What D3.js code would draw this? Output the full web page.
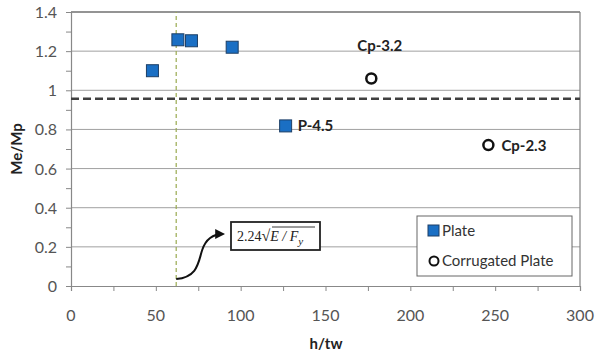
<!DOCTYPE html>
<html>
<head>
<meta charset="utf-8">
<script src="https://cdn.jsdelivr.net/npm/d3@7"></script>
<style>
  body { margin: 0; background: #fff; }
  svg { font-family: Lato, "Open Sans", sans-serif; }
</style>
</head>
<body>
<div id="chart"></div>
<script>

// data
var plateX = [48, 63, 71, 95, 126.5];
var plateY = [1.10, 1.258, 1.253, 1.22, 0.818];
var corrX = [177, 246];
var corrY = [1.06, 0.72];
var pointLabels = [
    { text: "P-4.5", x: 126.5, y: 0.818, dx: 12, dy: 5 },
    { text: "Cp-3.2", x: 177, y: 1.06, dx: -14, dy: -28 },
    { text: "Cp-2.3", x: 246, y: 0.72, dx: 13, dy: 6 }
];
var limitY = 0.957;      // dashed horizontal line
var slenderX = 62;       // 2.24 sqrt(E/Fy)
var xTicks = [0, 50, 100, 150, 200, 250, 300];
var yTicks = [0, 0.2, 0.4, 0.6, 0.8, 1, 1.2, 1.4];

var W = 600, H = 362;
var m = { left: 71, right: 20, top: 12, bottom: 76 };

var svg = d3.select('#chart').append('svg').attr('width', W).attr('height', H);

var x = d3.scaleLinear().domain([0, 300]).range([m.left, W - m.right]);
var y = d3.scaleLinear().domain([0, 1.4]).range([H - m.bottom, m.top]);

// gridlines
svg.append('g').selectAll('line').data(yTicks.slice(1))
    .enter().append('line')
    .attr('x1', x(0)).attr('x2', x(300))
    .attr('y1', function(d) { return y(d); }).attr('y2', function(d) { return y(d); })
    .style('stroke', d3.rgb(160, 160, 160)).style('stroke-width', 1);

// right border + top
svg.append('line').attr('x1', x(300)).attr('x2', x(300)).attr('y1', y(0)).attr('y2', y(1.4))
    .style('stroke', '#808080').style('stroke-width', 1.2);
svg.append('line').attr('x1', x(0)).attr('x2', x(300)).attr('y1', y(1.4)).attr('y2', y(1.4))
    .style('stroke', '#808080').style('stroke-width', 1.5);

// axes
var xAxis = d3.axisBottom(x).tickValues(d3.range(0, 301, 25)).tickSize(5).tickFormat('');
var yAxis = d3.axisLeft(y).tickValues(d3.range(0, 1.41, 0.1)).tickSize(5).tickFormat('');
var gx = svg.append('g').attr('transform', 'translate(0,' + y(0) + ')').call(xAxis);
var gy = svg.append('g').attr('transform', 'translate(' + x(0) + ',0)').call(yAxis);
[gx, gy].forEach(function(g) {
    g.select('.domain').style('stroke', '#888').style('stroke-width', 1.2);
    g.selectAll('.tick line').style('stroke', '#888');
});

svg.append('g').selectAll('text').data(xTicks).enter().append('text')
    .attr('x', function(d) { return x(d); }).attr('y', y(0) + 35)
    .attr('text-anchor', 'middle').attr('font-size', '16px').style('fill', '#555')
    .text(function(d) { return d; });
svg.append('g').selectAll('text').data(yTicks).enter().append('text')
    .attr('x', x(0) - 14).attr('y', function(d) { return y(d) + 6; })
    .attr('text-anchor', 'end').attr('font-size', '16px').style('fill', '#555')
    .text(function(d) { return d; });

svg.append('text').attr('x', 326).attr('y', 349).attr('text-anchor', 'middle')
    .attr('font-size', '15px').attr('font-weight', 'bold').style('fill', '#222').text('h/tw');
svg.append('text').attr('transform', 'translate(22,' + y(0.7) + ') rotate(-90)')
    .attr('text-anchor', 'middle').attr('font-size', '15px').attr('font-weight', 'bold')
    .style('fill', '#222').text('Me/Mp');

// reference lines
svg.append('line').attr('x1', x(0)).attr('x2', x(300)).attr('y1', y(limitY)).attr('y2', y(limitY))
    .style('stroke', '#404040').style('stroke-width', 2.5).style('stroke-dasharray', '8,4');
svg.append('line').attr('x1', x(slenderX)).attr('x2', x(slenderX)).attr('y1', y(0)).attr('y2', y(1.4))
    .style('stroke', '#9aaa50').style('stroke-width', 1.2).style('stroke-dasharray', '4,3');

// points
svg.append('g').selectAll('rect').data(plateX).enter().append('rect')
    .attr('x', function(d) { return x(d) - 6; })
    .attr('y', function(d, i) { return y(plateY[i]) - 6; })
    .attr('width', 12).attr('height', 12)
    .style('fill', '#1a6fc4').style('stroke', '#1d3f66').style('stroke-width', 1);
svg.append('g').selectAll('circle').data(corrX).enter().append('circle')
    .attr('cx', function(d) { return x(d); })
    .attr('cy', function(d, i) { return y(corrY[i]); })
    .attr('r', 5).style('fill', 'none').style('stroke', '#111').style('stroke-width', 2.5);

svg.append('g').selectAll('text').data(pointLabels).enter().append('text')
    .attr('x', function(d) { return x(d.x) + d.dx; })
    .attr('y', function(d) { return y(d.y) + d.dy; })
    .attr('font-size', '15px').attr('font-weight', 'bold').style('fill', '#222')
    .text(function(d) { return d.text; });

// annotation box with formula and curved arrow
svg.append('rect').attr('x', 231).attr('y', 222).attr('width', 89).attr('height', 28)
    .style('fill', '#fff').style('stroke', '#222').style('stroke-width', 1.8);
var f = svg.append('text').attr('x', 237).attr('y', 241)
    .attr('font-family', '"Liberation Serif", "DejaVu Serif", serif').attr('font-size', '14px').style('fill', '#222');
f.append('tspan').text('2.24');
f.append('tspan').attr('font-size', '16px').text('\u221A');
f.append('tspan').attr('font-style', 'italic').text('E / F');
f.append('tspan').attr('font-style', 'italic').attr('font-size', '11px').attr('dy', 4).text('y');
svg.append('line').attr('x1', 272).attr('x2', 315).attr('y1', 227).attr('y2', 227)
    .style('stroke', '#222').style('stroke-width', 0.9);

svg.append('defs').append('marker').attr('id', 'ah').attr('viewBox', '0 0 10 10')
    .attr('refX', 8).attr('refY', 5).attr('markerWidth', 5).attr('markerHeight', 5)
    .attr('orient', 'auto').append('path').attr('d', 'M0,0 L10,5 L0,10 z').style('fill', '#111');
var ax = x(slenderX);
var p = d3.path();
p.moveTo(ax, 279);
p.bezierCurveTo(ax + 22, 277, ax + 22, 262, ax + 26, 250);
p.bezierCurveTo(ax + 30, 238, ax + 38, 234, ax + 47, 234);
svg.append('path').attr('d', p.toString())
    .style('fill', 'none').style('stroke', '#111').style('stroke-width', 2)
    .attr('marker-end', 'url(#ah)');

// legend
var lg = svg.append('g');
lg.append('rect').attr('x', 417).attr('y', 216).attr('width', 155).attr('height', 60)
    .style('fill', '#fff').style('stroke', '#666').style('stroke-width', 1);
lg.append('rect').attr('x', 428).attr('y', 225).attr('width', 11).attr('height', 11)
    .style('fill', '#1a6fc4').style('stroke', '#1d3f66');
lg.append('text').attr('x', 442).attr('y', 236).attr('font-size', '15px').style('fill', '#333').text('Plate');
lg.append('circle').attr('cx', 434).attr('cy', 261).attr('r', 4.5)
    .style('fill', 'none').style('stroke', '#111').style('stroke-width', 2);
lg.append('text').attr('x', 442).attr('y', 266).attr('font-size', '15px').style('fill', '#333').text('Corrugated Plate');

</script>
</body>
</html>
